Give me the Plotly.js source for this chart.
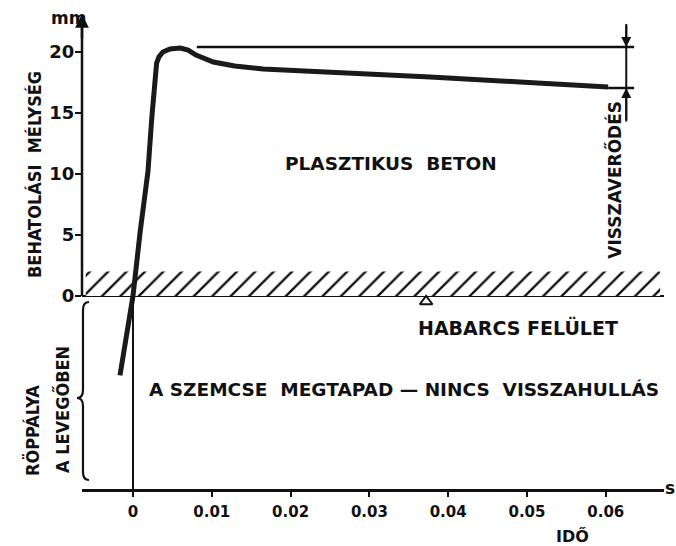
<!DOCTYPE html>
<html>
<head>
<meta charset="utf-8">
<script src="https://cdn.plot.ly/plotly-3.0.1.min.js"></script>
<style>html,body{margin:0;padding:0;background:#fff;}#chart{width:676px;height:546px;}</style>
</head>
<body>
<div id="chart"></div>
<script>
// Time (s) and penetration depth (mm) of the grain
const timeS = [-0.00165, -0.0008, 0, 0.0009, 0.0019, 0.0024, 0.0028, 0.0030, 0.0033, 0.0038, 0.0047, 0.0060, 0.0070, 0.0080, 0.0102, 0.0129, 0.0165, 0.0250, 0.0377, 0.0491, 0.0603];
const depthMm = [-6.5, -3.3, 0, 5.2, 10.2, 14.7, 17.6, 19.1, 19.6, 20.0, 20.25, 20.33, 20.16, 19.75, 19.18, 18.85, 18.61, 18.36, 17.95, 17.54, 17.13];

// Reference levels for the rebound ("visszaverődés") dimension
const peakLevelX = [0.0081, 0.0636];
const peakLevelY = [20.41, 20.41];
const finalLevelX = [0.0603, 0.0636];
const finalLevelY = [17.05, 17.05];
const dimX = 0.0626;

// Mortar surface layer (hatched band)
const surfaceX = [-0.0060, 0.0669];
const surfaceY = [2, 2];
const markerX = [0.0372];
const markerY = [-0.45];

// Axis ticks
const xTickVals = [0, 0.01, 0.02, 0.03, 0.04, 0.05, 0.06];
const xTickText = ['0', '0.01', '0.02', '0.03', '0.04', '0.05', '0.06'];
const yTickVals = [0, 5, 10, 15, 20];
const yTickText = ['0', '5', '10', '15', '20'];

const FONT = 'DejaVu Sans, sans-serif';
const FONTC = 'DejaVu Sans Condensed, DejaVu Sans, sans-serif';
const W = 676, H = 546, L = 82, R = 12, T = 22, B = 57;
const pw = W - L - R, ph = H - T - B;
const px = v => (v - L) / pw;
const py = v => (H - B - v) / ph;

function txt(text, x, y, opts, size, fam) {
  return Object.assign({text: text, x: x, y: y, showarrow: false, xanchor: 'center', yanchor: 'middle',
    font: {family: fam || FONT, size: size || 18, color: '#111', weight: 'bold'}}, opts || {});
}

const traces = [
  {x: surfaceX, y: surfaceY, mode: 'lines', fill: 'tozeroy', line: {width: 0, color: 'rgba(0,0,0,0)'},
   fillcolor: 'white', fillpattern: {shape: '/', size: 13, solidity: 0.18, fgcolor: '#111', bgcolor: 'white'},
   hoverinfo: 'skip'},
  {x: peakLevelX, y: peakLevelY, mode: 'lines', line: {color: '#111', width: 2.5}},
  {x: finalLevelX, y: finalLevelY, mode: 'lines', line: {color: '#111', width: 2.5}},
  {x: timeS, y: depthMm, mode: 'lines', line: {color: '#1a1a1a', width: 5}},
  {x: markerX, y: markerY, mode: 'markers', marker: {symbol: 'triangle-up-open', size: 11, color: '#111', line: {width: 2}}}
];

const bracePath = (() => {
  const P = (a, b) => px(a).toFixed(4) + ',' + py(b).toFixed(4);
  return 'M' + P(89, 302) + ' Q' + P(83, 302) + ' ' + P(83, 310) + ' L' + P(83, 390) +
    ' Q' + P(83, 398) + ' ' + P(77, 398) + ' Q' + P(83, 398) + ' ' + P(83, 406) +
    ' L' + P(83, 472) + ' Q' + P(83, 480) + ' ' + P(89, 480);
})();

const paperRef = {xref: 'paper', yref: 'paper'};
const layout = {
  width: W, height: H,
  margin: {l: L, r: R, t: T, b: B},
  paper_bgcolor: 'white', plot_bgcolor: 'white',
  showlegend: false,
  xaxis: {range: [-0.00647, 0.06739], showgrid: false, zeroline: false, showline: true,
    linecolor: '#111', linewidth: 2.5, ticks: 'outside', ticklen: 5, tickwidth: 2, tickcolor: '#111',
    tickvals: xTickVals, ticktext: xTickText, ticklabelstandoff: 2,
    tickfont: {family: FONT, size: 15, color: '#111', weight: 'bold'}},
  yaxis: {range: [-15.82, 22.46], showgrid: false, zeroline: true, zerolinecolor: '#111', zerolinewidth: 2.5,
    showline: false, ticks: 'outside', ticklen: 6, tickwidth: 2, tickcolor: '#111',
    tickvals: yTickVals, ticktext: yTickText, ticklabelstandoff: -3,
    tickfont: {family: FONT, size: 18, color: '#111', weight: 'bold'}},
  shapes: [
    {type: 'line', xref: 'paper', yref: 'y', x0: 0, x1: 0, y0: 0, y1: 22.46, line: {color: '#111', width: 2.5}},
    {type: 'line', xref: 'x', yref: 'y', x0: 0, x1: 0, y0: 0, y1: -15.82, line: {color: '#111', width: 2}},
    {type: 'line', xref: 'x', yref: 'y', x0: dimX, x1: dimX, y0: 22.3, y1: 14.3, line: {color: '#111', width: 2}},
    {type: 'path', xref: 'paper', yref: 'paper', path: bracePath, line: {color: '#111', width: 2.2}}
  ],
  annotations: [
    {xref: 'paper', yref: 'paper', x: 0, y: 1.017, ax: 0, ay: 26, showarrow: true, arrowhead: 2, arrowsize: 1.1, arrowwidth: 2.5, arrowcolor: '#111', text: ''},
    {xref: 'x', yref: 'y', x: dimX, y: peakLevelY[0], axref: 'x', ayref: 'y', ax: dimX, ay: 22.3, showarrow: true, arrowhead: 2, arrowsize: 1, arrowwidth: 2, arrowcolor: '#111', text: ''},
    {xref: 'x', yref: 'y', x: dimX, y: finalLevelY[0], axref: 'x', ayref: 'y', ax: dimX, ay: 14.3, showarrow: true, arrowhead: 2, arrowsize: 1, arrowwidth: 2, arrowcolor: '#111', text: ''},
    txt('PLASZTIKUS&nbsp;&nbsp;BETON', 0.0327, 10.9, null, 18.5),
    txt('VISSZAVERŐDÉS', 0.0610, 9.5, {textangle: -90}, 17),
    txt('HABARCS FELÜLET', 0.0489, -2.62, null, 19),
    txt('A SZEMCSE&nbsp;&nbsp;MEGTAPAD — NINCS&nbsp;&nbsp;VISSZAHULLÁS', 0.0344, -7.7, null, 18.5),
    txt('BEHATOLÁSI&nbsp;&nbsp;MÉLYSÉG', px(34), py(175), Object.assign({textangle: -90}, paperRef), 18, FONTC),
    txt('RÖPPÁLYA', px(32), py(431), Object.assign({textangle: -90}, paperRef), 18, FONTC),
    txt('A LEVEGŐBEN', px(62), py(410), Object.assign({textangle: -90}, paperRef), 18, FONTC),
    txt('mm', px(68), py(18), paperRef, 17),
    txt('s', px(670), py(488), paperRef, 17),
    txt('IDŐ', px(572), py(536), paperRef, 16)
  ]
};

Plotly.newPlot('chart', traces, layout, {displayModeBar: false, staticPlot: true});
</script>
</body>
</html>
